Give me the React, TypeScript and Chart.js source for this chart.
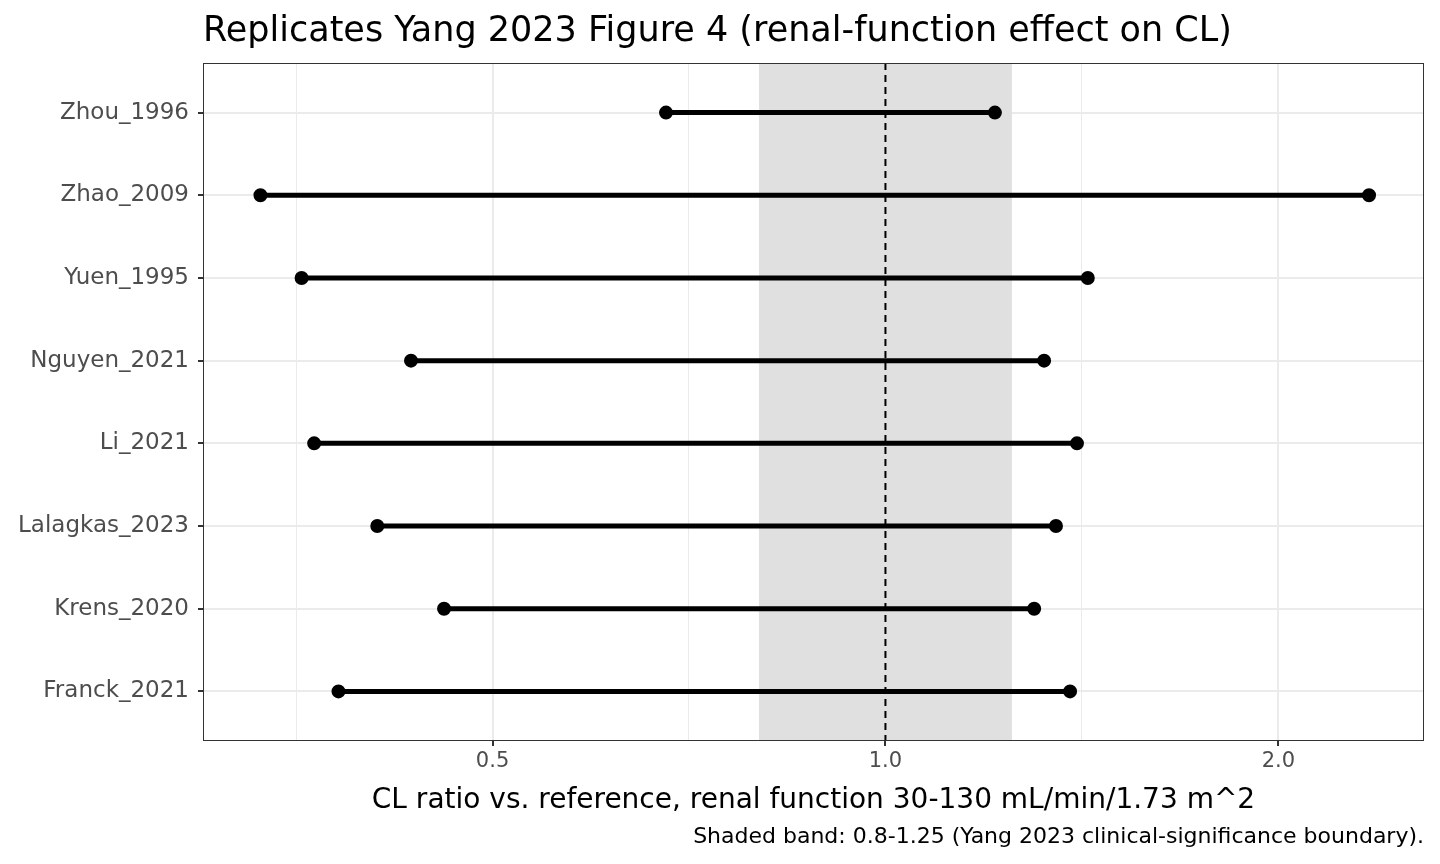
import React, { useEffect, useRef } from "react";
import { Chart, registerables } from "chart.js";
Chart.register(...registerables);

const studies = ["Franck_2021", "Krens_2020", "Lalagkas_2023", "Li_2021", "Nguyen_2021", "Yuen_1995", "Zhao_2009", "Zhou_1996"];
const lowValues = [0.381, 0.459, 0.408, 0.365, 0.433, 0.357, 0.332, 0.679];
const highValues = [1.385, 1.3, 1.351, 1.402, 1.323, 1.429, 2.347, 1.213];
const xTicks = [0.3536, 0.5, 0.7071, 1, 1.4142, 2];
const xTickLabels = ["", "0.5", "", "1.0", "", "2.0"];
const bandLow = 0.8;
const bandHigh = 1.25;
const refLine = 1.0;
const titleText = "Replicates Yang 2023 Figure 4 (renal-function effect on CL)";
const xTitle = "CL ratio vs. reference, renal function 30-130 mL/min/1.73 m^2";
const caption = "Shaded band: 0.8-1.25 (Yang 2023 clinical-significance boundary).";

export default function App() {
  const ref = useRef<HTMLCanvasElement>(null);
  useEffect(() => {
    document.body.style.margin = "0";
    const font = "'DejaVu Sans', sans-serif";
    const deco = {
      id: "deco",
      beforeDatasetsDraw(c: any) {
        const { ctx, chartArea: a, scales } = c;
        const x = scales.x;
        ctx.save();
        ctx.fillStyle = "#E0E0E0";
        const x1 = x.getPixelForValue(bandLow), x2 = x.getPixelForValue(bandHigh);
        ctx.fillRect(x1, a.top, x2 - x1, a.bottom - a.top);
        ctx.strokeStyle = "#000";
        ctx.lineWidth = 2;
        ctx.setLineDash([7, 5]);
        const xr = x.getPixelForValue(refLine);
        ctx.beginPath(); ctx.moveTo(xr, a.top); ctx.lineTo(xr, a.bottom); ctx.stroke();
        ctx.restore();
      },
      afterDraw(c: any) {
        const { ctx, chartArea: a } = c;
        ctx.save();
        ctx.strokeStyle = "#333";
        ctx.lineWidth = 1;
        ctx.strokeRect(a.left + 0.5, a.top + 0.5, a.right - a.left - 1, a.bottom - a.top - 1);
        ctx.fillStyle = "#000";
        ctx.textBaseline = "alphabetic";
        ctx.font = `35px ${font}`;
        ctx.textAlign = "left";
        ctx.fillText(titleText, a.left, 41);
        ctx.font = `28px ${font}`;
        ctx.textAlign = "center";
        ctx.fillText(xTitle, (a.left + a.right) / 2, 808);
        ctx.font = `22px ${font}`;
        ctx.textAlign = "right";
        ctx.fillText(caption, a.right, 843);
        ctx.restore();
      },
    };
    const datasets = studies.map((s, i) => ({
      label: s,
      data: [{ x: lowValues[i], y: i }, { x: highValues[i], y: i }],
      borderColor: "#000",
      backgroundColor: "#000",
      borderWidth: 5,
      pointRadius: 4.5,
      showLine: true,
    }));
    const chart = new Chart(ref.current!, {
      type: "scatter",
      data: { datasets },
      plugins: [deco],
      options: {
        animation: false,
        responsive: false,
        layout: { padding: { top: 63, right: 16, left: 0, bottom: 0 } },
        plugins: { legend: { display: false }, tooltip: { enabled: false } },
        scales: {
          x: {
            type: "logarithmic",
            min: 0.302,
            max: 2.586,
            afterBuildTicks: (s: any) => { s.ticks = xTicks.map((v) => ({ value: v })); },
            afterFit: (s: any) => { s.height = 123; },
            ticks: {
              autoSkip: false, maxRotation: 0,
              callback: (_v: any, i: number) => xTickLabels[i],
              color: "#4D4D4D", font: { size: 21, family: font }, padding: 3,
            },
            grid: {
              color: "#EBEBEB",
              lineWidth: (ctx: any) => (xTickLabels[ctx.index] ? 2 : 1),
              tickColor: (ctx: any) => (xTickLabels[ctx.index] ? "#333" : "rgba(0,0,0,0)"),
              tickLength: 5,
            },
            border: { display: false },
          },
          y: {
            type: "linear",
            min: -0.6,
            max: 7.6,
            afterBuildTicks: (s: any) => { s.ticks = studies.map((_, i) => ({ value: i })); },
            afterFit: (s: any) => { s.width = 203; },
            ticks: {
              autoSkip: false,
              callback: (v: any) => studies[v as number],
              color: "#4D4D4D", font: { size: 23, family: font }, padding: 9,
            },
            grid: { color: "#EBEBEB", lineWidth: 2, tickColor: "#333", tickLength: 5 },
            border: { display: false },
          },
        },
      },
    });
    return () => chart.destroy();
  }, []);
  return <canvas ref={ref} width={1440} height={864} style={{ display: "block" }} />;
}
